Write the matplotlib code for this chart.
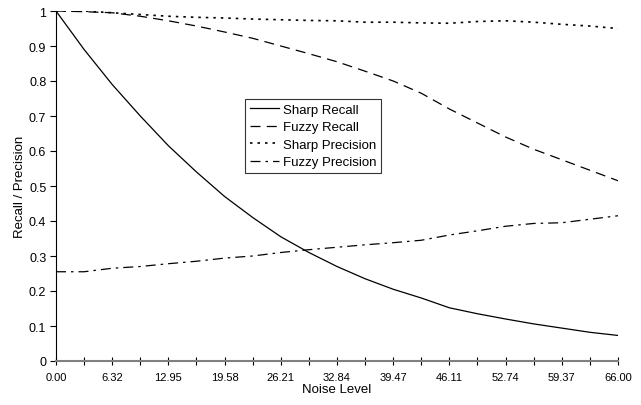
import matplotlib.pyplot as plt
import numpy as np

plt.rcParams['font.family'] = ['Liberation Sans', 'DejaVu Sans']

# 21 noise levels (category axis), labels shown on every other one
tick_labels = ["0.00", "6.32", "12.95", "19.58", "26.21", "32.84",
               "39.47", "46.11", "52.74", "59.37", "66.00"]

sharp_recall = [1.0, 0.89, 0.79, 0.70, 0.615, 0.54, 0.47, 0.41, 0.355, 0.31, 0.27,
                0.235, 0.205, 0.18, 0.152, 0.135, 0.12, 0.106, 0.094, 0.082, 0.073]
fuzzy_recall = [1.0, 0.998, 0.995, 0.985, 0.972, 0.957, 0.94, 0.922, 0.90, 0.878, 0.855,
                0.828, 0.80, 0.765, 0.72, 0.68, 0.64, 0.605, 0.575, 0.545, 0.515]
sharp_precision = [1.0, 1.0, 0.995, 0.99, 0.985, 0.982, 0.98, 0.977, 0.975, 0.973, 0.972,
                   0.968, 0.968, 0.966, 0.965, 0.97, 0.972, 0.968, 0.962, 0.957, 0.950]
fuzzy_precision = [0.255, 0.255, 0.265, 0.27, 0.278, 0.285, 0.294, 0.30, 0.31, 0.318, 0.325,
                   0.332, 0.338, 0.345, 0.36, 0.372, 0.385, 0.393, 0.395, 0.405, 0.415]

x = np.arange(len(sharp_recall))

fig = plt.figure(figsize=(6.41, 4.06), dpi=100)
ax = fig.add_axes([56 / 641, 1 - 362 / 406, (618 - 56) / 641, 350 / 406])

lw = 0.9
ax.plot(x, sharp_recall, '-', color='black', lw=lw, label='Sharp Recall')
ax.plot(x, fuzzy_recall, color='black', lw=lw, linestyle=(0, (8, 5)), label='Fuzzy Recall')
ax.plot(x, sharp_precision, color='black', lw=1.2, linestyle=(0, (1.5, 3)), label='Sharp Precision')
ax.plot(x, fuzzy_precision, color='black', lw=lw, linestyle=(0, (8, 4, 2, 4)), label='Fuzzy Precision')

ax.set_xlim(0, 20)
ax.set_ylim(0, 1)
ax.set_xticks(x[::2])
ax.set_xticklabels(tick_labels, fontsize=8)
ax.set_xticks(x[1::2], minor=True)
ax.set_yticks(np.arange(0, 1.01, 0.1))
ax.set_yticklabels(["0", "0.1", "0.2", "0.3", "0.4", "0.5", "0.6", "0.7", "0.8", "0.9", "1"], fontsize=9)

for s in ['top', 'right']:
    ax.spines[s].set_visible(False)
ax.spines['left'].set_color('black')
ax.spines['bottom'].set_color('#808080')
ax.spines['bottom'].set_linewidth(1.5)
ax.tick_params(axis='x', which='both', direction='inout', length=6, width=0.8, color='black', pad=5)
ax.tick_params(axis='y', direction='out', length=4, width=0.8, pad=3)

ax.set_xlabel("Noise Level", fontsize=9.5, labelpad=1)
ax.set_ylabel("Recall / Precision", fontsize=9.5, labelpad=2)

leg = ax.legend(loc='upper left', bbox_to_anchor=((245 - 56) / 562, 1 - (100 - 12) / 350),
                fontsize=9.5, frameon=True, fancybox=False, handlelength=2.2,
                handletextpad=0.3, borderpad=0.35, labelspacing=0.4, borderaxespad=0)
leg.get_frame().set_edgecolor('black')
leg.get_frame().set_linewidth(0.8)

fig.savefig('out.png', dpi=100)
